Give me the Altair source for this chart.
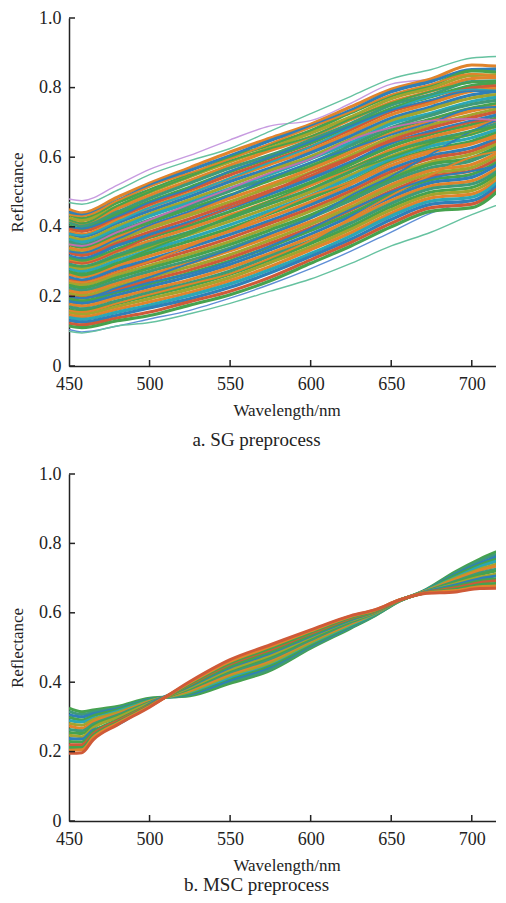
import altair as alt
import pandas as pd

WA = [450,458,480,500,525,550,575,600,625,650,675,700,720]
A_ROWS = [
[.450,.440,.485,.525,.570,.615,.655,.695,.745,.795,.825,.865,.860],
[.442,.433,.475,.518,.562,.604,.648,.688,.735,.788,.818,.852,.853],
[.435,.424,.470,.506,.550,.598,.636,.676,.728,.776,.806,.848,.843],
[.426,.418,.459,.499,.544,.587,.627,.669,.716,.768,.799,.835,.837],
[.418,.409,.452,.490,.533,.577,.619,.658,.708,.758,.790,.826,.830],
[.412,.402,.443,.481,.525,.569,.606,.650,.697,.750,.780,.817,.820],
[.403,.394,.436,.472,.514,.558,.598,.640,.690,.740,.774,.806,.814],
[.395,.387,.426,.464,.506,.549,.589,.630,.679,.731,.762,.799,.806],
[.387,.378,.419,.455,.497,.539,.580,.621,.670,.722,.755,.790,.798],
[.380,.372,.411,.446,.487,.530,.569,.613,.661,.712,.745,.779,.791],
[.372,.363,.402,.437,.478,.520,.562,.602,.652,.704,.738,.770,.782],
[.364,.356,.394,.431,.470,.510,.551,.595,.642,.696,.727,.760,.775],
[.357,.348,.386,.420,.460,.503,.541,.583,.634,.685,.721,.752,.766],
[.349,.341,.377,.412,.452,.491,.534,.574,.624,.677,.710,.741,.758],
[.340,.333,.370,.403,.441,.482,.522,.566,.615,.668,.702,.733,.750],
[.333,.325,.361,.395,.433,.472,.514,.556,.605,.657,.693,.722,.743],
[.326,.318,.353,.385,.423,.463,.504,.546,.597,.649,.685,.714,.735],
[.317,.309,.346,.377,.414,.454,.494,.538,.586,.640,.675,.704,.726],
[.310,.302,.336,.369,.404,.444,.485,.528,.579,.631,.667,.694,.718],
[.302,.295,.329,.359,.396,.434,.474,.519,.568,.621,.658,.686,.710],
[.294,.286,.320,.351,.386,.425,.467,.508,.559,.613,.649,.675,.703],
[.286,.279,.312,.342,.378,.416,.456,.500,.549,.603,.640,.667,.695],
[.279,.271,.303,.333,.368,.406,.447,.490,.541,.594,.632,.656,.686],
[.271,.264,.295,.325,.359,.396,.438,.482,.530,.586,.623,.646,.678],
[.263,.256,.287,.316,.350,.387,.428,.471,.522,.576,.614,.638,.671],
[.255,.247,.279,.306,.341,.378,.418,.463,.512,.567,.605,.627,.662],
[.247,.240,.270,.299,.331,.368,.410,.453,.503,.558,.597,.618,.654],
[.239,.233,.262,.289,.322,.358,.400,.445,.494,.549,.587,.609,.647],
[.232,.225,.254,.281,.313,.349,.391,.434,.484,.539,.580,.598,.639],
[.224,.217,.245,.272,.303,.339,.381,.426,.476,.531,.570,.590,.630],
[.216,.210,.237,.263,.295,.331,.372,.415,.466,.521,.562,.579,.623],
[.208,.202,.229,.254,.285,.320,.362,.407,.457,.513,.553,.570,.614],
[.201,.195,.220,.246,.276,.311,.353,.397,.448,.503,.545,.561,.606],
[.193,.187,.212,.236,.267,.302,.343,.389,.438,.494,.535,.551,.598],
[.185,.180,.204,.228,.258,.292,.334,.379,.430,.485,.527,.542,.591],
[.177,.172,.196,.219,.248,.283,.324,.370,.420,.476,.518,.532,.582],
[.170,.164,.187,.211,.239,.273,.316,.360,.411,.467,.510,.523,.574],
[.161,.157,.179,.202,.230,.264,.305,.352,.401,.458,.500,.513,.567],
[.154,.149,.171,.193,.221,.254,.297,.342,.393,.449,.492,.504,.558],
[.146,.141,.163,.184,.211,.245,.286,.334,.383,.439,.483,.494,.550],
[.139,.134,.155,.175,.203,.236,.277,.323,.374,.431,.474,.485,.543],
[.131,.126,.146,.167,.193,.226,.268,.315,.364,.421,.465,.475,.535],
[.123,.118,.138,.155,.185,.215,.255,.305,.355,.410,.455,.465,.527],
[.115,.110,.130,.145,.175,.205,.245,.295,.345,.400,.445,.455,.520],
]
A_COLORS = "obgyotgrobyctgoyrbgotycgobrygtoyrgbotgyocbrg"
A_STREAKS = [
[.200,.195,.225,.255,.295,.335,.380,.425,.490,.545,.610,.675,.715],
[.330,.325,.365,.405,.445,.490,.540,.585,.625,.665,.700,.740,.745],
[.160,.155,.180,.205,.235,.265,.310,.360,.425,.490,.550,.600,.620],
[.300,.295,.330,.370,.410,.455,.500,.555,.600,.645,.670,.700,.710],
[.350,.345,.385,.420,.465,.510,.555,.595,.650,.685,.705,.710,.705],
[.290,.285,.315,.345,.385,.425,.465,.510,.560,.600,.640,.675,.690],
[.380,.375,.415,.455,.495,.540,.585,.630,.685,.735,.775,.795,.790],
[.400,.395,.430,.470,.510,.560,.600,.645,.690,.735,.765,.790,.790],
[.200,.195,.215,.240,.265,.300,.345,.395,.450,.500,.540,.560,.580],
[.245,.240,.270,.300,.345,.390,.440,.490,.530,.585,.620,.640,.660],
[.420,.410,.460,.500,.545,.590,.625,.660,.710,.755,.790,.815,.820],
[.435,.430,.475,.515,.555,.595,.640,.685,.730,.780,.810,.840,.830],
[.270,.260,.295,.335,.380,.430,.475,.525,.570,.615,.645,.665,.700],
]
A_STREAK_COLORS = "bborpgcbbogog"
A_EDGES = [
[.480,.475,.520,.565,.605,.650,.690,.705,.755,.810,.825,.850,.850],
[.470,.465,.505,.550,.590,.625,.675,.725,.775,.825,.852,.885,.890],
[.105,.098,.115,.135,.160,.195,.235,.280,.330,.385,.440,.475,.500],
[.100,.095,.115,.125,.150,.180,.215,.250,.295,.345,.385,.435,.470],
]
A_EDGE_COLORS = "PGBG"
WB = [450,458,465,480,500,525,550,575,600,625,640,655,670,690,705,720]
B_ROWS = [
[.325,.315,.320,.330,.354,.361,.397,.434,.498,.556,.592,.633,.663,.719,.755,.785],
[.316,.307,.314,.326,.351,.364,.403,.438,.501,.558,.593,.634,.662,.715,.750,.776],
[.306,.300,.309,.323,.350,.366,.406,.445,.506,.561,.595,.634,.662,.711,.743,.770],
[.299,.291,.303,.320,.349,.368,.412,.449,.508,.563,.595,.634,.661,.708,.738,.761],
[.290,.285,.296,.316,.346,.372,.415,.455,.513,.566,.597,.635,.661,.702,.733,.755],
[.281,.276,.292,.312,.345,.374,.420,.457,.515,.568,.598,.635,.660,.700,.726,.746],
[.274,.267,.286,.308,.344,.377,.424,.463,.520,.570,.600,.635,.660,.696,.722,.740],
[.264,.260,.279,.305,.342,.381,.429,.468,.522,.573,.600,.635,.659,.691,.715,.730],
[.255,.252,.274,.301,.340,.382,.434,.474,.526,.575,.602,.635,.659,.688,.710,.725],
[.247,.243,.269,.298,.339,.385,.437,.478,.530,.578,.602,.636,.658,.684,.703,.716],
[.238,.236,.262,.278,.337,.389,.443,.484,.533,.580,.604,.636,.658,.680,.698,.709],
[.229,.228,.257,.291,.335,.391,.446,.488,.536,.582,.604,.636,.657,.676,.692,.700],
[.220,.220,.251,.288,.333,.394,.452,.494,.541,.585,.605,.636,.657,.672,.687,.694],
[.212,.212,.246,.284,.332,.396,.456,.498,.544,.587,.606,.637,.656,.668,.681,.685],
[.204,.205,.240,.281,.330,.399,.460,.503,.548,.590,.608,.637,.656,.664,.675,.678],
[.195,.197,.234,.277,.328,.402,.465,.508,.551,.592,.609,.637,.655,.660,.670,.671],
]
B_COLORS = "gtbgcyotgybgrgor"
YT = [0,.2,.4,.6,.8,1.0]
XT = [450,500,550,600,650,700]
PAL = {"b":"#2f7fb8","o":"#e0842c","g":"#46a24e","r":"#cf5a38","p":"#c070b0","y":"#a3a42e",
       "t":"#3f9a78","c":"#2ba7b5","P":"#c79be0","G":"#66c2a0","B":"#5f8fd6"}
FONT = "Liberation Serif"; INK = "#222222"

def long(rows, wl, cols):
    return pd.DataFrame([{"s":i,"c":PAL[cols[i]],"w":w,"r":v} for i,row in enumerate(rows) for w,v in zip(wl,row)])

def panel(rows, wl, cols, caption, W, H, sw, off, streaks=None, edges=None):
    xs = alt.Scale(domain=[450,720], nice=False)
    ys = alt.Scale(domain=[0,1], nice=False)
    x = alt.X("w:Q", scale=xs, axis=alt.Axis(values=XT, ticks=False, grid=False, title="Wavelength/nm",
        labelFlush=False, labelPadding=9, titlePadding=9, domainWidth=1.5, domainColor=INK))
    y = alt.Y("r:Q", scale=ys, axis=alt.Axis(values=YT, ticks=False, grid=False, title="Reflectance",
        labelExpr="datum.value==0?'0':format(datum.value,'.1f')", labelPadding=8, titlePadding=12,
        domainWidth=1.5, domainColor=INK))
    col = alt.Color("c:N", scale=None)
    def lines(r, c, width):
        return alt.Chart(long(r,wl,c)).mark_line(strokeWidth=width, clip=True, interpolate="monotone").encode(
            x=x, y=y, color=col, detail="s:N")
    layers = []
    if edges: layers.append(lines(edges[0], edges[1], 1.4))
    layers.append(lines(rows, cols, sw))
    if streaks: layers.append(lines(streaks[0], streaks[1], 1.9))
    layers.append(alt.Chart(pd.DataFrame({"v":YT})).mark_rule(color=INK, strokeWidth=1.5).encode(
        y=alt.Y("v:Q", scale=ys, title="Reflectance"), x=alt.value(0), x2=alt.value(6)))
    layers.append(alt.Chart(pd.DataFrame({"v":XT[1:]})).mark_rule(color=INK, strokeWidth=1.5).encode(
        x=alt.X("v:Q", scale=xs, title="Wavelength/nm"), y=alt.value(H), y2=alt.value(H-6)))
    return alt.layer(*layers).properties(width=W, height=H,
        title=alt.TitleParams(caption, orient="bottom", anchor="middle", dx=-30, offset=off,
                              font=FONT, fontSize=19, fontWeight="normal", color=INK))

a = panel(A_ROWS, WA, A_COLORS, "a. SG preprocess", 435, 348, 3.2, 13,
          (A_STREAKS, A_STREAK_COLORS), (A_EDGES, A_EDGE_COLORS))
b = panel(B_ROWS, WB, B_COLORS, "b. MSC preprocess", 435, 347, 3.0, 2.5)
chart = alt.vconcat(a, b, spacing=15).properties(
    padding={"left":0,"top":1,"right":-8,"bottom":0}, background="white"
).configure_view(stroke=None).configure_axis(labelFont=FONT, titleFont=FONT, labelFontSize=18, titleFontSize=17,
    titleFontWeight="normal", labelColor=INK, titleColor=INK)
chart.save("out.html", embed_options={"renderer":"svg","actions":False})
